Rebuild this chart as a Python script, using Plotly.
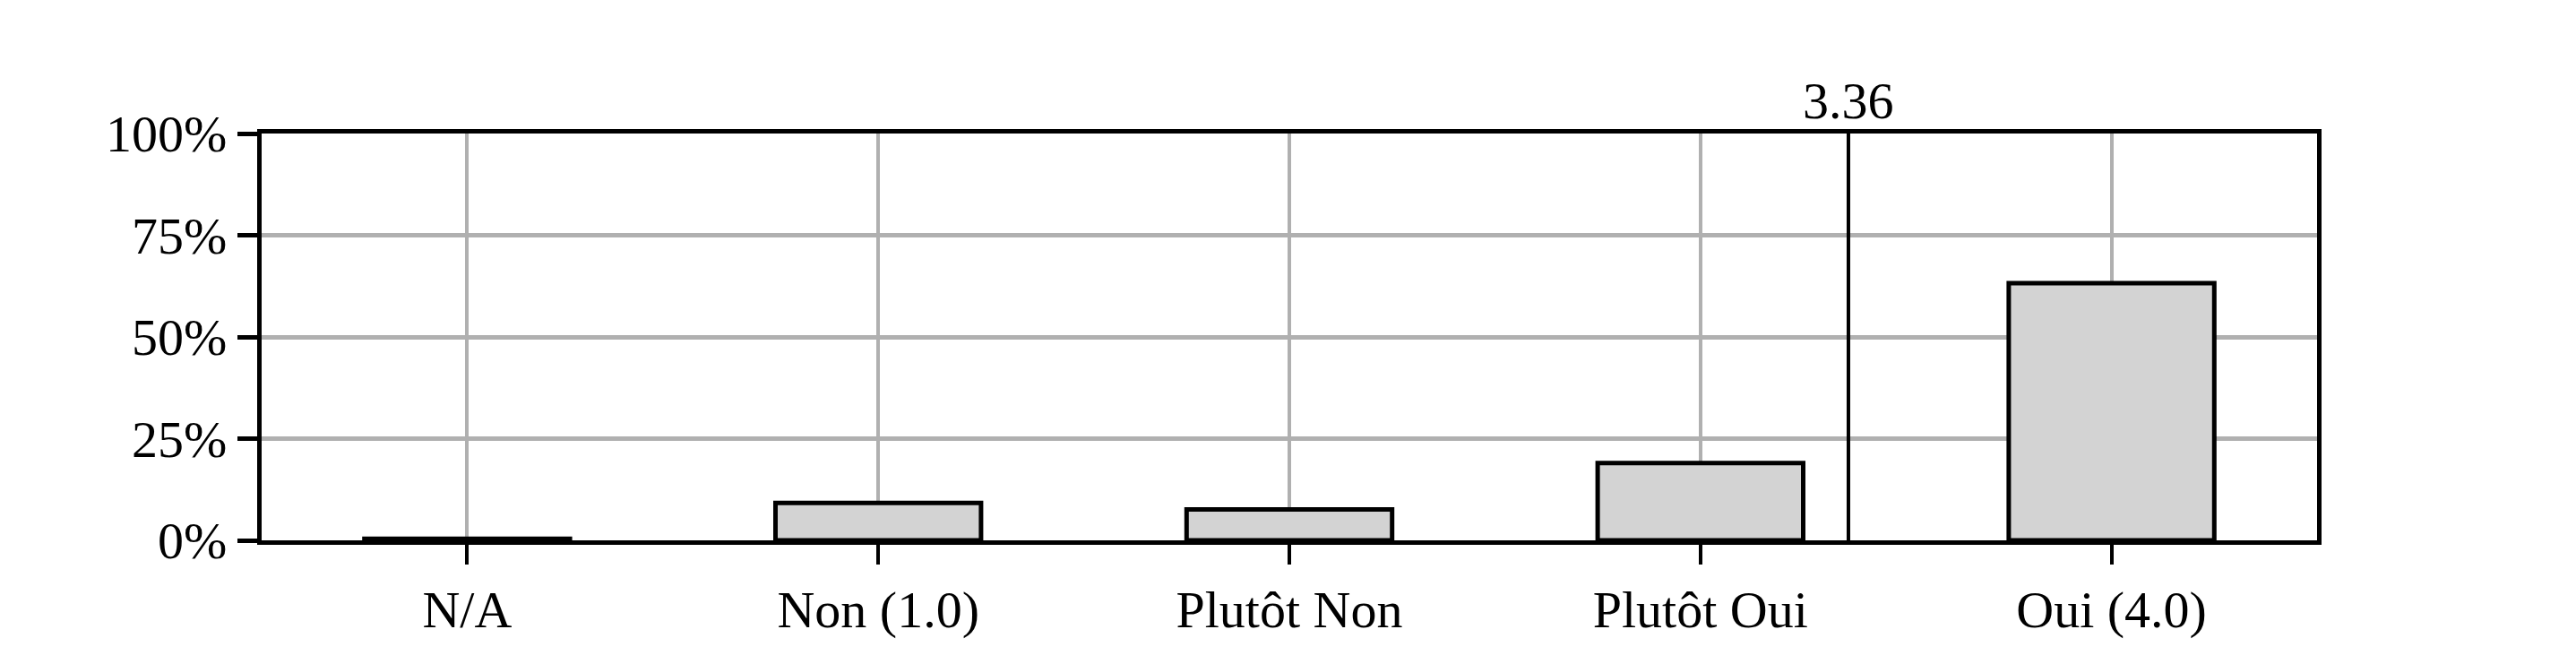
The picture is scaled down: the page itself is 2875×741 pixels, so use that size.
import plotly.graph_objects as go

categories = ["N/A", "Non (1.0)", "Plutôt Non", "Plutôt Oui", "Oui (4.0)"]
shares = [0.4, 9.2, 7.6, 19.0, 63.2]  # percent
mean_score = 3.36
y_ticks = [0, 25, 50, 75, 100]

font = dict(family="Liberation Serif, DejaVu Serif, serif", size=58, color="black")

fig = go.Figure(go.Bar(
    x=list(range(len(categories))), y=shares, width=0.5,
    marker=dict(color="#d3d3d3", line=dict(color="black", width=5)),
))

fig.add_shape(type="line", x0=mean_score, x1=mean_score, y0=0, y1=100,
              xref="x", yref="y", line=dict(color="black", width=4))
fig.add_annotation(x=mean_score, y=100, text=f"{mean_score:.2f}", showarrow=False,
                   yanchor="bottom", yshift=2, font=font)

fig.update_xaxes(range=[-0.5, 4.5], tickmode="array", tickvals=list(range(len(categories))),
                 ticktext=categories, showgrid=True, gridcolor="#b0b0b0", gridwidth=4,
                 showline=True, linecolor="black", linewidth=5, mirror=True,
                 ticks="outside", ticklen=22, tickwidth=4, tickcolor="black", zeroline=False)
fig.update_yaxes(range=[0, 100], tickmode="array", tickvals=y_ticks,
                 ticktext=[f"{v}%" for v in y_ticks], showgrid=True, gridcolor="#b0b0b0", gridwidth=5,
                 showline=True, linecolor="black", linewidth=5, mirror=True,
                 ticks="outside", ticklen=22, tickwidth=5, tickcolor="black", zeroline=False)

fig.update_layout(
    width=2875, height=741, font=font, showlegend=False,
    plot_bgcolor="white", paper_bgcolor="white",
    margin=dict(l=284, r=297, t=141, b=146),
)

fig.write_html("out.html")
